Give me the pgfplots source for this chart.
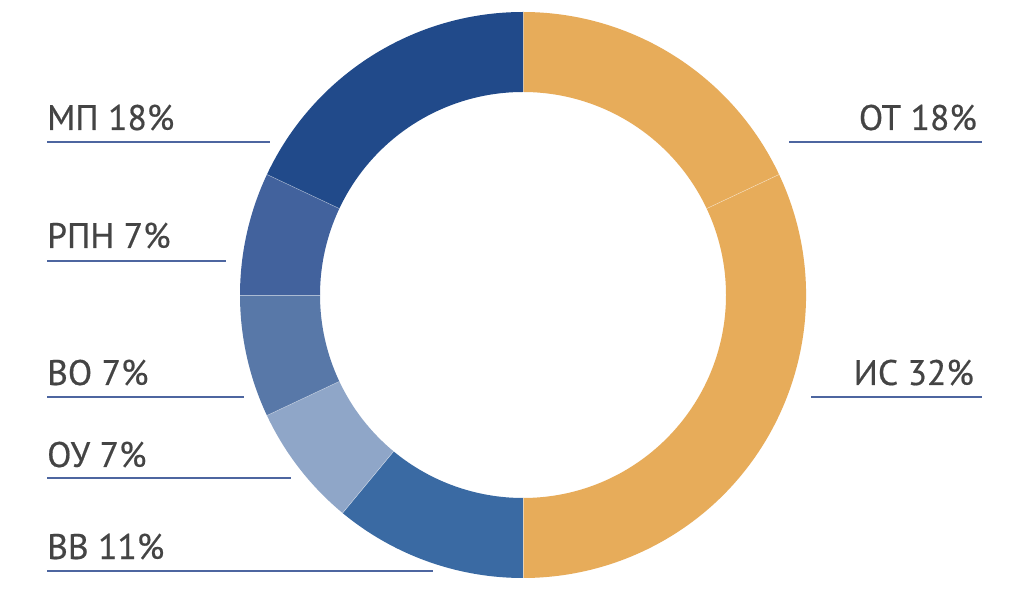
\documentclass[border=0pt]{standalone}
\usepackage{fontspec}
\setmainfont{PT Sans}[FakeBold=0.5]
\usepackage{pgfplots}
\usepackage{pgfplotstable}
\pgfplotsset{compat=1.18}

\definecolor{cOT}{HTML}{E7AC5A}
\definecolor{cIS}{HTML}{E7AC5A}
\definecolor{cVV}{HTML}{3A6AA3}
\definecolor{cOU}{HTML}{8FA6C8}
\definecolor{cVO}{HTML}{5878A8}
\definecolor{cRPN}{HTML}{42629D}
\definecolor{cMP}{HTML}{214A8A}
\definecolor{rule}{HTML}{4D66A0}
\definecolor{txt}{HTML}{444444}

% shares clockwise from 12 o'clock
\pgfplotstableread[col sep=comma]{
label,value,col
ОТ,18,cOT
ИС,32,cIS
ВВ,11,cVV
ОУ,7,cOU
ВО,7,cVO
РПН,7,cRPN
МП,18,cMP
}\donut

\begin{document}
\begin{tikzpicture}
\begin{axis}[
    scale only axis,
    width=1024pt, height=610pt,
    xmin=0, xmax=1024, ymin=0, ymax=610,
    hide axis,
    clip=false,
]
\fill[white] (axis cs:0,0) rectangle (axis cs:1024,610);

\pgfplotstablegetrowsof{\donut}
\pgfmathtruncatemacro\lastrow{\pgfplotsretval-1}
\def\cum{0}
\pgfplotsforeachungrouped \i in {0,...,\lastrow}{%
  \pgfplotstablegetelem{\i}{value}\of{\donut}\let\val\pgfplotsretval
  \pgfplotstablegetelem{\i}{col}\of{\donut}\let\segcol\pgfplotsretval
  \pgfmathsetmacro\sa{90-3.6*\cum}
  \pgfmathsetmacro\ea{90-3.6*(\cum+\val)}
  \pgfmathsetmacro\cum{\cum+\val}
  \edef\temp{\noexpand\fill[\segcol] (axis cs:523,315) ++(\sa:283pt)
     arc[start angle=\sa, end angle=\ea, radius=283pt]
     -- ++(\ea+180:80pt)
     arc[start angle=\ea, end angle=\sa, radius=203pt] -- cycle;
     \noexpand\draw[white, opacity=0.5, line width=0.5pt]
     (axis cs:523,315) ++(\sa:203pt) -- ++(\sa:80pt);}
  \temp
}

% labels and rules
\begin{scope}[every node/.style={font=\fontsize{35.5}{40}\selectfont, text=txt, inner sep=0pt}]
\node[anchor=base west] at (axis cs:47,480) {МП 18\%};
\node[anchor=base west] at (axis cs:47,362) {РПН 7\%};
\node[anchor=base west] at (axis cs:47,225) {ВО 7\%};
\node[anchor=base west] at (axis cs:47,143) {ОУ 7\%};
\node[anchor=base west] at (axis cs:47,51) {ВВ 11\%};
\node[anchor=base east] at (axis cs:977,480) {ОТ 18\%};
\node[anchor=base east] at (axis cs:974,225) {ИС 32\%};
\end{scope}
\begin{scope}[rule, line width=1.6pt]
\draw (axis cs:47,468) -- (axis cs:270,468);
\draw (axis cs:47,349) -- (axis cs:226,349);
\draw (axis cs:47,213) -- (axis cs:244,213);
\draw (axis cs:47,132) -- (axis cs:291,132);
\draw (axis cs:47,39) -- (axis cs:433,39);
\draw (axis cs:789,468) -- (axis cs:982,468);
\draw (axis cs:811,213) -- (axis cs:982,213);
\end{scope}
\end{axis}
\end{tikzpicture}
\end{document}
